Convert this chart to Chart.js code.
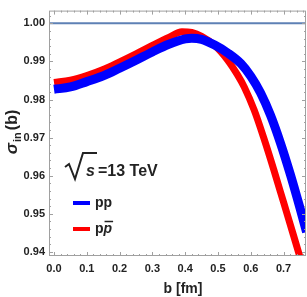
<!DOCTYPE html>
<html>
<head>
<meta charset="utf-8">
<script src="https://cdn.jsdelivr.net/npm/chart.js@4"></script>
<style>
  html, body { margin: 0; padding: 0; background: #fff; }
  #wrap { width: 307px; height: 297px; }
</style>
</head>
<body>
<div id="wrap"><canvas id="grafico"></canvas></div>
<script>
// valores
const bPP = [0, 0.05, 0.1, 0.15, 0.2, 0.25, 0.3, 0.35, 0.4, 0.42, 0.45, 0.49, 0.53, 0.57, 0.6, 0.63, 0.66, 0.69, 0.72, 0.75, 0.77];
const sigmaPP = [0.9827, 0.9833, 0.9847, 0.9862, 0.9882, 0.9903, 0.9925, 0.9945, 0.9959, 0.9961, 0.9958, 0.9943, 0.9922, 0.9894, 0.9861, 0.9817, 0.9759, 0.9687, 0.9605, 0.9515, 0.9452];

const bPPbar = [0, 0.05, 0.1, 0.15, 0.2, 0.25, 0.3, 0.35, 0.39, 0.42, 0.45, 0.49, 0.53, 0.56, 0.58, 0.61, 0.64, 0.67, 0.7, 0.73, 0.76, 0.77];
const sigmaPPbar = [0.9845, 0.9851, 0.9863, 0.9879, 0.9899, 0.9920, 0.9942, 0.9963, 0.9978, 0.9976, 0.9966, 0.9942, 0.9903, 0.9864, 0.9833, 0.9773, 0.9698, 0.9616, 0.9530, 0.9444, 0.9357, 0.9328];

const linhaUm = [1.0, 1.0];
const xTicks = [0.0, 0.1, 0.2, 0.3, 0.4, 0.5, 0.6, 0.7];
const yTicks = [0.94, 0.95, 0.96, 0.97, 0.98, 0.99, 1.00];

const xMin = -0.0152, xMax = 0.7683;
const yMin = 0.93892, yMax = 1.00335;

const fonte = '"Liberation Sans", Arial, sans-serif';
const corTexto = '#222';
const corEixo = '#a0a0a0';

const pares = (xs, ys) => xs.map((x, i) => ({ x, y: ys[i] }));

// moldura, ticks internos, títulos e legenda
const decoracao = {
  id: 'decoracao',
  afterDraw(chart) {
    const { ctx, chartArea: a, scales: { x, y } } = chart;
    ctx.save();
    ctx.strokeStyle = corEixo;
    ctx.lineWidth = 1;
    ctx.strokeRect(a.left + 0.5, a.top + 0.5, a.right - a.left - 1, a.bottom - a.top - 1);

    ctx.beginPath();
    for (let i = 0; i <= 40; i++) {
      const v = i * 0.02;
      if (v > xMax) break;
      const px = Math.round(x.getPixelForValue(v)) + 0.5;
      const len = i % 5 === 0 ? 4 : 2;
      ctx.moveTo(px, a.bottom); ctx.lineTo(px, a.bottom - len);
      ctx.moveTo(px, a.top); ctx.lineTo(px, a.top + len);
    }
    for (let i = 0; i <= 40; i++) {
      const v = 0.94 + i * 0.002;
      if (v > yMax) break;
      const py = Math.round(y.getPixelForValue(v)) + 0.5;
      const len = i % 5 === 0 ? 4 : 2;
      ctx.moveTo(a.left, py); ctx.lineTo(a.left + len, py);
      ctx.moveTo(a.right, py); ctx.lineTo(a.right - len, py);
    }
    ctx.stroke();

    ctx.fillStyle = corTexto;
    ctx.textBaseline = 'alphabetic';

    // título do eixo x
    ctx.font = 'bold 14px ' + fonte;
    ctx.textAlign = 'center';
    ctx.fillText('b [fm]', 183, 293);

    // título do eixo y: σ_in(b)
    ctx.save();
    ctx.translate(17, 132);
    ctx.rotate(-Math.PI / 2);
    ctx.textAlign = 'left';
    const fSig = 'italic bold 17px ' + fonte;
    const fSub = 'bold 11px ' + fonte;
    const fPar = 'bold 16px ' + fonte;
    ctx.font = fSig; const w1 = ctx.measureText('σ').width;
    ctx.font = fSub; const w2 = ctx.measureText('in').width;
    ctx.font = fPar; const w3 = ctx.measureText('(b)').width;
    let x0 = -(w1 + w2 + w3 + 3) / 2;
    ctx.font = fSig; ctx.fillText('σ', x0, 0); x0 += w1 + 1;
    ctx.font = fSub; ctx.fillText('in', x0, 4); x0 += w2 + 2;
    ctx.font = fPar; ctx.fillText('(b)', x0, 0);
    ctx.restore();

    // √s = 13 TeV
    ctx.strokeStyle = corTexto;
    ctx.lineWidth = 2;
    ctx.lineJoin = 'miter';
    ctx.beginPath();
    ctx.moveTo(65, 167);
    ctx.lineTo(69, 164);
    ctx.lineTo(75, 179);
    ctx.lineTo(83, 153);
    ctx.lineTo(97, 153);
    ctx.stroke();
    ctx.textAlign = 'left';
    ctx.font = 'italic bold 16px ' + fonte;
    ctx.fillText('s', 86, 176);
    ctx.font = 'bold 16px ' + fonte;
    ctx.fillText('=13 TeV', 98, 176);

    // legenda
    const ds = chart.data.datasets;
    const itens = [{ d: ds[1], y: 203 }, { d: ds[2], y: 229 }];
    ctx.lineWidth = 4;
    itens.forEach(it => {
      ctx.strokeStyle = it.d.borderColor;
      ctx.beginPath();
      ctx.moveTo(73, it.y); ctx.lineTo(90, it.y);
      ctx.stroke();
    });
    ctx.font = 'bold 14px ' + fonte;
    ctx.fillText('pp', 95, 207);
    ctx.fillText('p', 95, 233);
    const wp = ctx.measureText('p').width;
    ctx.font = 'italic bold 14px ' + fonte;
    ctx.fillText('p', 95 + wp, 233);
    const wp2 = ctx.measureText('p').width;
    ctx.lineWidth = 1.5;
    ctx.strokeStyle = corTexto;
    ctx.beginPath();
    ctx.moveTo(95 + wp + 1, 221.5); ctx.lineTo(95 + wp + wp2 + 1, 221.5);
    ctx.stroke();

    ctx.restore();
  }
};

new Chart(document.getElementById('grafico'), {
  type: 'line',
  data: {
    datasets: [
      {
        label: '1',
        data: pares([xMin, xMax], linhaUm),
        borderColor: '#5e81b5',
        borderWidth: 2,
        pointRadius: 0,
        clip: 0
      },
      {
        label: 'pp',
        data: pares(bPP, sigmaPP),
        borderColor: '#0000ff',
        borderWidth: 9,
        pointRadius: 0,
        cubicInterpolationMode: 'monotone',
        clip: 0
      },
      {
        label: 'pp̄',
        data: pares(bPPbar, sigmaPPbar),
        borderColor: '#ff0000',
        borderWidth: 7,
        pointRadius: 0,
        cubicInterpolationMode: 'monotone',
        clip: 0
      }
    ]
  },
  options: {
    responsive: true,
    maintainAspectRatio: false,
    animation: false,
    layout: { padding: { top: 0, right: 1, left: 0, bottom: 0 } },
    plugins: { legend: { display: false }, tooltip: { enabled: false } },
    scales: {
      x: {
        type: 'linear',
        min: xMin,
        max: xMax,
        afterBuildTicks: s => { s.ticks = xTicks.map(v => ({ value: v })); },
        afterFit: s => { s.height = 41; },
        grid: { display: false, drawTicks: false },
        border: { display: false },
        ticks: {
          padding: 6,
          maxRotation: 0,
          autoSkip: false,
          color: corTexto,
          font: { family: fonte, size: 11, weight: 'bold' },
          callback: v => v.toFixed(1)
        }
      },
      y: {
        type: 'linear',
        min: yMin,
        max: yMax,
        afterBuildTicks: s => { s.ticks = yTicks.map(v => ({ value: v })); },
        afterFit: s => { s.width = 49; },
        grid: { display: false, drawTicks: false },
        border: { display: false },
        ticks: {
          padding: 4,
          autoSkip: false,
          color: corTexto,
          font: { family: fonte, size: 11, weight: 'bold' },
          callback: v => v.toFixed(2)
        }
      }
    }
  },
  plugins: [decoracao]
});
</script>
</body>
</html>
